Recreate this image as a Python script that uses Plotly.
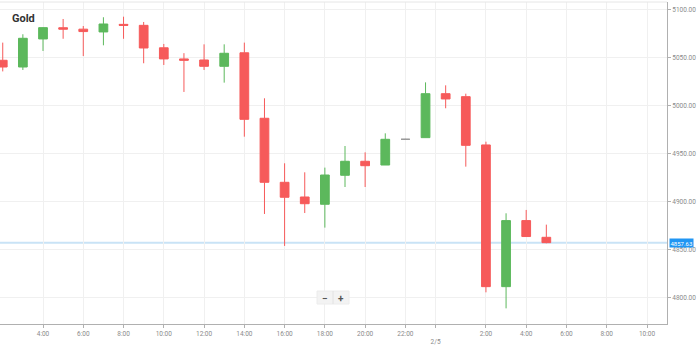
import plotly.graph_objects as go

# ---- data (hourly candles) ----
times = [
    "2026-02-04 02:00", "2026-02-04 03:00", "2026-02-04 04:00", "2026-02-04 05:00",
    "2026-02-04 06:00", "2026-02-04 07:00", "2026-02-04 08:00", "2026-02-04 09:00",
    "2026-02-04 10:00", "2026-02-04 11:00", "2026-02-04 12:00", "2026-02-04 13:00",
    "2026-02-04 14:00", "2026-02-04 15:00", "2026-02-04 16:00", "2026-02-04 17:00",
    "2026-02-04 18:00", "2026-02-04 19:00", "2026-02-04 20:00", "2026-02-04 21:00",
    "2026-02-04 23:00", "2026-02-05 00:00", "2026-02-05 01:00", "2026-02-05 02:00",
    "2026-02-05 03:00", "2026-02-05 04:00", "2026-02-05 05:00",
]
opens = [5047.6, 5040.6, 5069.8, 5081.5, 5080.0, 5077.1, 5085.0, 5084.0,
         5060.6, 5049.0, 5047.9, 5041.3, 5055.4, 4987.2, 4920.5, 4905.2,
         4897.6, 4927.8, 4942.4, 4938.5, 4967.0, 5012.8, 5009.7, 4959.4,
         4811.8, 4880.6, 4863.2]
highs = [5066.0, 5074.7, 5082.0, 5090.6, 5083.3, 5092.4, 5093.0, 5087.5,
         5064.6, 5055.0, 5064.2, 5064.2, 5066.0, 5008.0, 4940.3, 4930.9,
         4935.8, 4958.3, 4951.7, 4971.5, 5024.6, 5021.5, 5012.8, 4962.8,
         4888.2, 4891.7, 4876.4]
lows = [5036.0, 5037.5, 5057.3, 5070.0, 5052.0, 5063.2, 5070.0, 5044.5,
        5042.7, 5014.6, 5037.5, 5024.3, 4968.0, 4887.5, 4854.2, 4888.5,
        4873.3, 4915.6, 4915.6, 4938.5, 4967.0, 4997.6, 4936.8, 4805.9,
        4789.2, 4864.0, 4857.0]
closes = [5040.6, 5070.5, 5081.6, 5080.0, 5077.5, 5085.4, 5084.0, 5060.4,
          5049.0, 5047.6, 5041.3, 5054.9, 4986.1, 4920.5, 4904.9, 4898.2,
          4928.1, 4942.4, 4937.8, 4965.3, 5012.8, 5007.3, 4959.0, 4811.8,
          4880.6, 4864.0, 4857.63]

# flat (doji) candle drawn in grey
doji_time = ["2026-02-04 22:00"]
doji_open = [4965.3]
doji_high = [4965.8]
doji_low = [4965.0]
doji_close = [4965.3]

last_price = 4857.63

tick_vals = ["2026-02-04 04:00", "2026-02-04 06:00", "2026-02-04 08:00", "2026-02-04 10:00",
             "2026-02-04 12:00", "2026-02-04 14:00", "2026-02-04 16:00", "2026-02-04 18:00",
             "2026-02-04 20:00", "2026-02-04 22:00", "2026-02-04 23:30", "2026-02-05 02:00",
             "2026-02-05 04:00", "2026-02-05 06:00", "2026-02-05 08:00", "2026-02-05 10:00"]
tick_text = ["4:00", "6:00", "8:00", "10:00", "12:00", "14:00", "16:00", "18:00",
             "20:00", "22:00", "<br>2/5", "2:00", "4:00", "6:00", "8:00", "10:00"]
y_ticks = [4800, 4850, 4900, 4950, 5000, 5050, 5100]

RED = "#f65a5a"
GREEN = "#5cb85c"
GREY = "#9a9a9a"

fig = go.Figure()
fig.add_trace(go.Candlestick(
    x=times, open=opens, high=highs, low=lows, close=closes,
    increasing=dict(line=dict(color=GREEN, width=1), fillcolor=GREEN),
    decreasing=dict(line=dict(color=RED, width=1), fillcolor=RED),
    whiskerwidth=0, showlegend=False, hoverinfo="skip",
))
fig.add_trace(go.Candlestick(
    x=doji_time, open=doji_open, high=doji_high, low=doji_low, close=doji_close,
    increasing=dict(line=dict(color=GREY, width=1), fillcolor=GREY),
    decreasing=dict(line=dict(color=GREY, width=1), fillcolor=GREY),
    whiskerwidth=0, showlegend=False, hoverinfo="skip",
))

# current price line
fig.add_shape(type="line", xref="paper", x0=0, x1=1, yref="y", y0=last_price, y1=last_price,
              line=dict(color="#c9e3f6", width=2), layer="below")
# top border
fig.add_shape(type="line", xref="paper", x0=0, x1=1, yref="paper", y0=1, y1=1,
              line=dict(color="#e6e6e6", width=1))

fig.add_annotation(xref="paper", x=1, xanchor="left", xshift=2, yref="y", y=last_price,
                   text=f"{last_price:.2f}", showarrow=False,
                   font=dict(family="Roboto", size=6, color="white"),
                   bgcolor="#2196f3", borderpad=0.5)

fig.add_annotation(xref="paper", yref="paper", x=0, y=1, xanchor="left", yanchor="top",
                   xshift=10, yshift=-8, text="<b>Gold</b>", showarrow=False,
                   font=dict(family="Roboto", size=11, color="#333333"))

# zoom control
fig.add_shape(type="rect", xref="paper", yref="paper",
              x0=317 / 667, x1=349 / 667, y0=(324 - 304) / 322, y1=(324 - 291) / 322,
              fillcolor="#f3f3f3", line=dict(color="#ececec", width=1))
fig.add_shape(type="line", xref="paper", yref="paper",
              x0=333 / 667, x1=333 / 667, y0=(324 - 304) / 322, y1=(324 - 291) / 322,
              line=dict(color="#e2e2e2", width=1))
fig.add_annotation(xref="paper", yref="paper", x=325 / 667, y=(324 - 297.5) / 322,
                   yanchor="middle", yshift=-1,
                   text="<b>−</b>", showarrow=False,
                   font=dict(family="Roboto", size=10, color="#555555"))
fig.add_annotation(xref="paper", yref="paper", x=341 / 667, y=(324 - 297.5) / 322,
                   yanchor="middle", yshift=-1,
                   text="<b>+</b>", showarrow=False,
                   font=dict(family="Roboto", size=10, color="#555555"))

fig.update_layout(
    width=699, height=346,
    margin=dict(l=0, r=32, t=2, b=22),
    paper_bgcolor="white", plot_bgcolor="white",
    boxgap=0.38,
    font=dict(family="Roboto", size=7, color="#8a8a8a"),
    xaxis=dict(
        type="date", range=["2026-02-04 01:51:50", "2026-02-05 10:59:36"],
        rangeslider=dict(visible=False),
        tickmode="array", tickvals=tick_vals, ticktext=tick_text,
        showgrid=True, gridcolor="#f0f0f0", gridwidth=1,
        showline=True, linecolor="#b0b0b0", linewidth=1,
        ticks="outside", ticklen=3, tickcolor="#b0b0b0",
        tickfont=dict(family="Roboto", size=6.5, color="#8a8a8a"),
        zeroline=False, fixedrange=True,
    ),
    yaxis=dict(
        side="right", range=[4772.9, 5108.3],
        tickmode="array", tickvals=y_ticks, tickformat=".2f",
        showgrid=True, gridcolor="#f0f0f0", gridwidth=1,
        showline=True, linecolor="#b0b0b0", linewidth=1,
        ticks="outside", ticklen=3, tickcolor="#b0b0b0",
        tickfont=dict(family="Roboto", size=6.5, color="#8a8a8a"),
        zeroline=False, fixedrange=True,
    ),
)

fig.write_html("out.html")
